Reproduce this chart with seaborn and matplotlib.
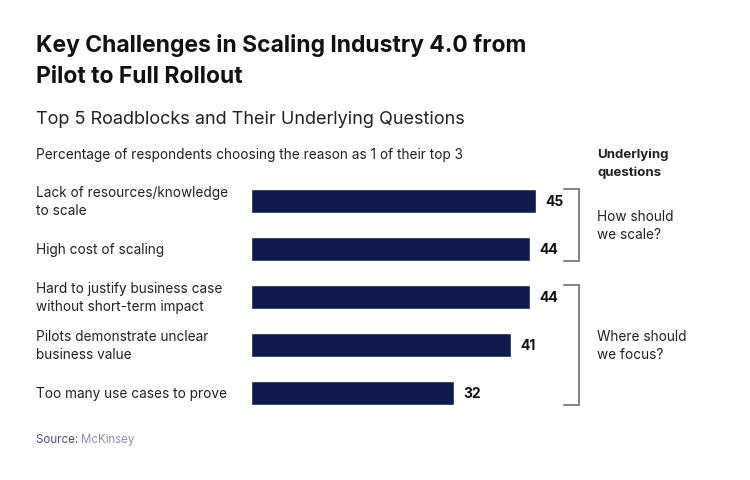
"""
Key challenges in scaling Industry 4.0 - horizontal bar chart with question brackets
"""
import pandas as pd
import matplotlib.pyplot as plt
import seaborn as sns

sns.set_theme(style='white')
plt.rcParams['font.family'] = ['Inter', 'DejaVu Sans']

# data
reasons = ['Lack of resources/knowledge\nto scale',
           'High cost of scaling',
           'Hard to justify business case\nwithout short-term impact',
           'Pilots demonstrate unclear\nbusiness value',
           'Too many use cases to prove']
shares = [45, 44, 44, 41, 32]
groups = ['How should\nwe scale?', 'Where should\nwe focus?']
group_rows = [(0, 1), (2, 4)]

df = pd.DataFrame({'Reason': reasons, 'Share': shares})

navy = '#0f1c4b'
fig = plt.figure(figsize=(7.5, 4.81), dpi=100)
ax = fig.add_axes([251 / 750, 1 - 418 / 481, 316.7 / 750, 240 / 481])

sns.barplot(data=df, x='Share', y='Reason', orient='h', color=navy,
            width=0.48, saturation=1, ax=ax)
ax.set_xlim(0, 50)
ax.set_ylim(4.5, -0.5)
ax.set_xlabel('')
ax.set_ylabel('')
ax.set_xticks([])
ax.set_yticks([])
sns.despine(ax=ax, left=True, bottom=True)

for i, v in enumerate(shares):
    ax.text(v + 1.5, i, str(v), va='center', ha='left', fontsize=10,
            fontweight='bold', color='#111111')

# category labels on the left
for i, r in enumerate(reasons):
    ax.annotate(r, xy=(36 / 750, i), xycoords=('figure fraction', 'data'),
                va='center', ha='left', fontsize=9.8, color='#222222',
                linespacing=1.42, annotation_clip=False)

# brackets
for (a, b), g in zip(group_rows, groups):
    top, bot = a - 0.25, b + 0.25
    ax.plot([49.4, 51.8, 51.8, 49.4], [top, top, bot, bot], color='#7a7a7a',
            lw=1.3, clip_on=False, solid_joinstyle='miter')
    ax.annotate(g, xy=(597 / 750, (a + b) / 2), xycoords=('figure fraction', 'data'),
                va='center', ha='left', fontsize=9.8, color='#222222',
                linespacing=1.42, annotation_clip=False)

fig.text(36 / 750, 1 - 61 / 481, 'Key Challenges in Scaling Industry 4.0 from\nPilot to Full Rollout',
         fontsize=16.5, fontweight='bold', color='#111111', va='center', ha='left', linespacing=1.55)
fig.text(36 / 750, 1 - 119 / 481, 'Top 5 Roadblocks and Their Underlying Questions',
         fontsize=13, color='#222222', va='center', ha='left')
fig.text(36 / 750, 1 - 155 / 481, 'Percentage of respondents choosing the reason as 1 of their top 3',
         fontsize=9.8, color='#222222', va='center', ha='left')
fig.text(597 / 750, 1 - 164 / 481, 'Underlying\nquestions', fontsize=9.5, fontweight='bold',
         color='#222222', va='center', ha='left', linespacing=1.55)
src = fig.text(36 / 750, 1 - 440 / 481, 'Source: ', fontsize=8.3, color='#4a5079',
               va='center', ha='left')
fig.canvas.draw()
bb = src.get_window_extent()
fig.text(bb.x1 / 750, 1 - 440 / 481, 'McKinsey', fontsize=8.3, color='#8a8fab',
         va='center', ha='left')

fig.savefig('out.png', dpi=100)
